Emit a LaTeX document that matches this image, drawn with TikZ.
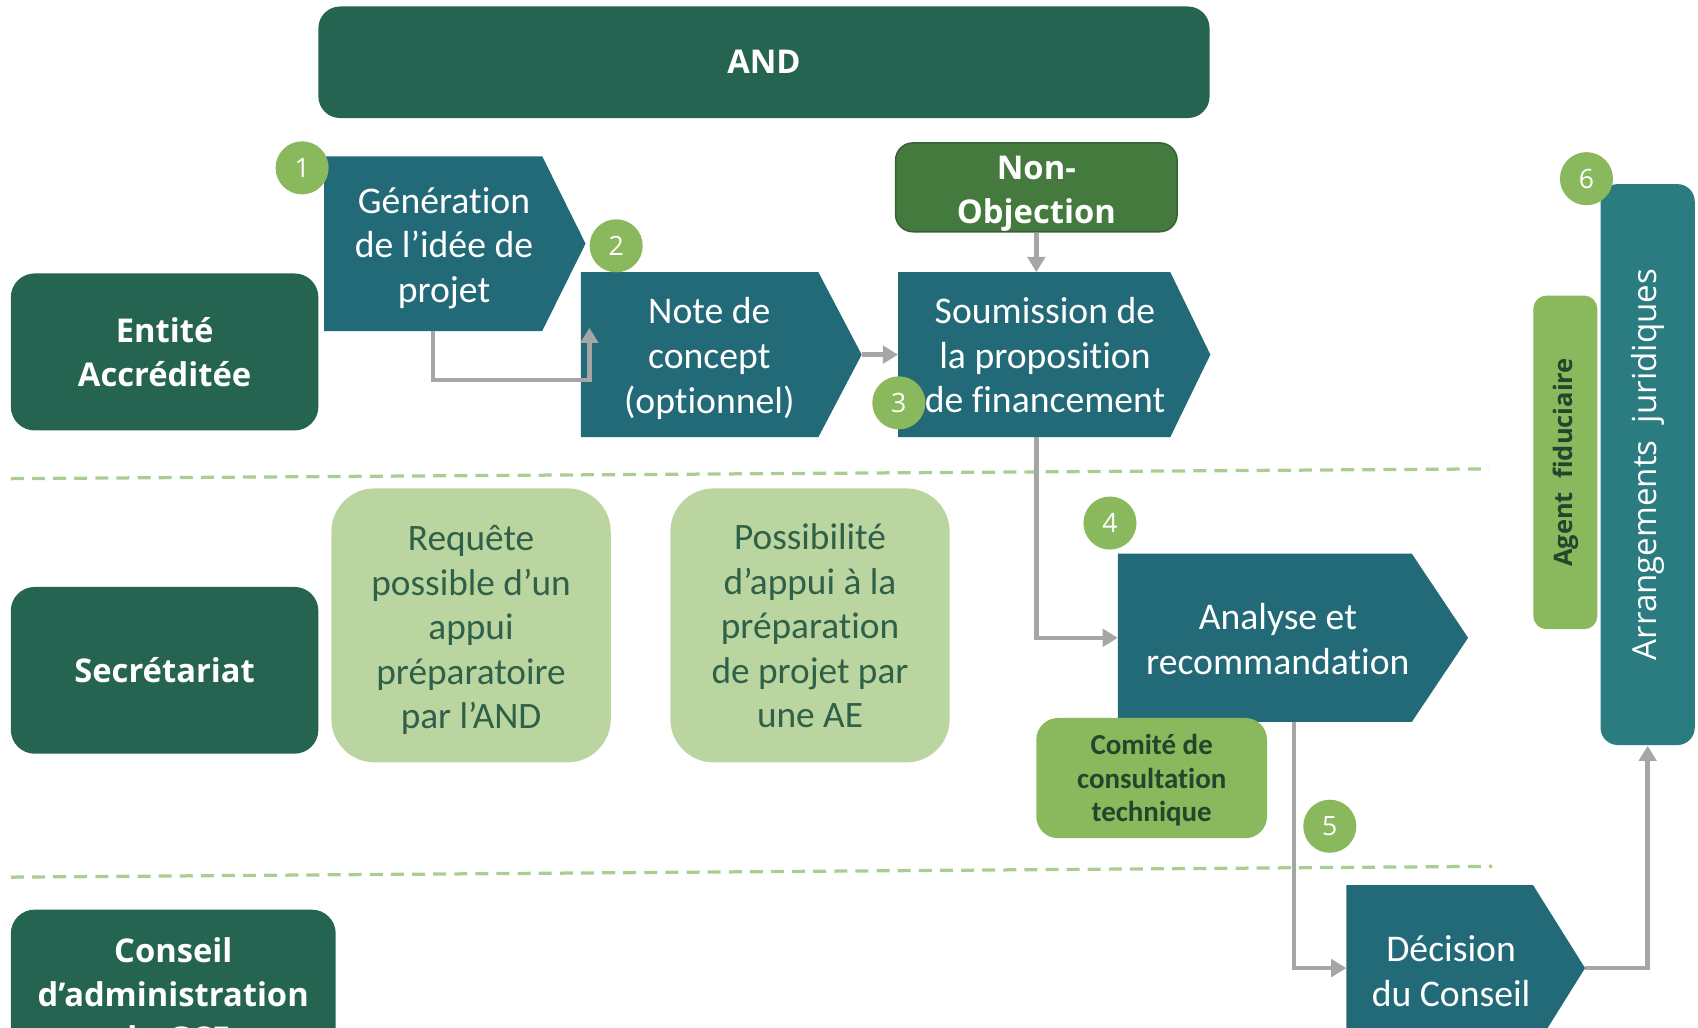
\documentclass[tikz,border=0pt]{standalone}
\usepackage{fontspec}
\setmainfont{Carlito}[Ligatures=CommonOff]
\newfontfamily\opensans{Open Sans}
\usetikzlibrary{calc,arrows.meta}

\definecolor{lanegreen}{RGB}{37,100,80}
\definecolor{chevteal}{RGB}{34,106,119}
\definecolor{arrteal}{RGB}{42,124,128}
\definecolor{nogreen}{RGB}{68,122,62}
\definecolor{paleggreen}{RGB}{186,213,160}
\definecolor{midgreen}{RGB}{138,184,92}
\definecolor{palettext}{RGB}{47,96,72}
\definecolor{darktext}{RGB}{33,70,46}
\definecolor{flowgray}{RGB}{166,166,166}
\definecolor{sepgreen}{RGB}{170,206,146}

\tikzset{
  lane/.style={rounded corners=2.2mm, fill=lanegreen, text=white, align=center,
    inner sep=0pt, font=\opensans\bfseries\fontsize{8.6}{11.6}\selectfont},
  chev/.style={inner sep=0pt},
  chevtxt/.style={text=white, align=center, inner sep=0pt,
    font=\fontsize{9.9}{11.7}\selectfont},
  palebox/.style={rounded corners=4mm, fill=paleggreen, text=palettext, align=center,
    inner sep=0pt, minimum width=25.8mm, minimum height=25.3mm,
    font=\fontsize{9.8}{11.7}\selectfont},
  num/.style={circle, fill=midgreen, text=white, inner sep=0pt, minimum size=4.9mm,
    font=\opensans\fontsize{7}{8}\selectfont},
  flow/.style={draw=flowgray, line width=1.15pt,
    -{Stealth[inset=0pt, length=1.4mm, width=1.6mm]}},
  sep/.style={draw=sepgreen, line width=0.3mm, dash pattern=on 1.2mm off 0.75mm}
}

\begin{document}
\begin{tikzpicture}[x=0.1mm, y=-0.1mm]
  \useasboundingbox (0,0) rectangle (1568,949);

  % top bar and swimlane labels
  \node[lane, minimum width=82.3mm, minimum height=10.3mm, rounded corners=2mm] (and) at (705.5,57.5) {AND};
  \node[lane, minimum width=28.4mm, minimum height=14.5mm] (ea) at (152,325) {Entité\\Accréditée};
  \node[lane, minimum width=28.4mm, minimum height=15.4mm] (secr) at (152,619) {Secrétariat};
  \node[lane, minimum width=30mm, minimum height=15.6mm] (ca) at (160,918) {Conseil\\d’administration\\du GCF};

  \draw[sep] (10,442) -- (1375,433);
  \draw[sep] (10,810) -- (1378,800);

  % secretariat support
  \node[palebox] (req) at (435,577.5) {};
  \node[palebox] (poss) at (748,577.5) {};
  \node[palebox, fill=none, minimum size=0pt] (req-txt) at (435,582) {Requête\\possible d’un\\appui\\préparatoire\\par l’AND};
  \node[palebox, fill=none, minimum size=0pt] (poss-txt) at (748,578) {Possibilité\\d’appui à la\\préparation\\de projet par\\une AE};

  % steps
  \node[chev, minimum width=20mm, minimum height=16mm] (gen) at (400,225) {};
  \node[chev, minimum width=21.8mm, minimum height=15.1mm] (note) at (646,327.5) {};
  \node[chev, minimum width=25mm, minimum height=15.1mm] (soum) at (955,327.5) {};
  \node[chev, minimum width=27mm, minimum height=15.4mm] (ana) at (1168,589) {};
  \node[chev, minimum width=17.1mm, minimum height=15.2mm] (dec) at (1329.5,894) {};
  \foreach \n/\t in {gen/40,note/40,soum/37,ana/52,dec/48}{
    \coordinate (\n-tip) at ($(\n.east)+(\t,0)$);
    \fill[chevteal] (\n.north west) -- (\n.north east) -- (\n-tip)
      -- (\n.south east) -- (\n.south west) -- cycle;
  }
  \node[chevtxt] (gen-txt) at (410,229) {Génération\\de l’idée de\\projet};
  \node[chevtxt] (note-txt) at (655,331) {Note de\\concept\\(optionnel)};
  \node[chevtxt] (soum-txt) at (965,328) {Soumission de\\la proposition\\de financement};
  \node[chevtxt] (ana-txt) at (1180,590) {Analyse et\\recommandation};
  \node[chevtxt] (dec-txt) at (1340,897) {Décision\\du Conseil};

  \node[rounded corners=1.6mm, fill=nogreen, draw=nogreen!80!black, line width=0.4pt,
    minimum width=26mm, minimum height=8.2mm, inner sep=0pt] (nonobj) at (957,173) {};
  \node[text=white, align=center, inner sep=0pt,
    font=\opensans\bfseries\fontsize{8.6}{11.4}\selectfont] (nonobj-txt) at (957,179) {Non-\\Objection};
  \node[rounded corners=2mm, fill=midgreen, minimum width=21.3mm, minimum height=11.1mm,
    inner sep=0pt] (ctc) at (1063.5,718.5) {};
  \node[text=darktext, align=center, inner sep=0pt,
    font=\bfseries\fontsize{7.6}{8.8}\selectfont] (ctc-txt) at (1063.5,720.5) {Comité de\\consultation\\technique};
  \node[rounded corners=1.2mm, fill=midgreen, rotate=90, minimum width=30.8mm, minimum height=5.9mm,
    inner sep=0pt, text=darktext, font=\opensans\bfseries\fontsize{6.7}{8}\selectfont] (agent) at (1445.5,427) {Agent~ fiduciaire};
  \node[rounded corners=1.6mm, fill=arrteal, rotate=90, minimum width=51.8mm, minimum height=8.7mm,
    inner sep=0pt, text=white, font=\opensans\fontsize{8.7}{10}\selectfont] (arr) at (1521.5,429) {Arrangements~ juridiques};

  % connectors
  \draw[flow] (gen.south) -- ++(0,45) -| ($(note.south west)+(8,-101)$);
  \draw[flow] (note-tip) -- (soum.west);
  \draw[flow] (nonobj.south) -- (nonobj.south |- soum.north);
  \draw[flow] ($(soum.south)+(2,0)$) |- (ana.west);
  \draw[flow] ($(ana.south)+(27,0)$) |- (dec.west);
  \draw[flow] (dec-tip) -| (arr.west);

  % step numbers
  \node[num] (n1) at (279,155) {1};
  \node[num] (n2) at (569,227) {2};
  \node[num] (n3) at (830,372) {3};
  \node[num] (n4) at (1025,483) {4};
  \node[num] (n5) at (1228,763) {5};
  \node[num] (n6) at (1465,165) {6};
\end{tikzpicture}
\end{document}
